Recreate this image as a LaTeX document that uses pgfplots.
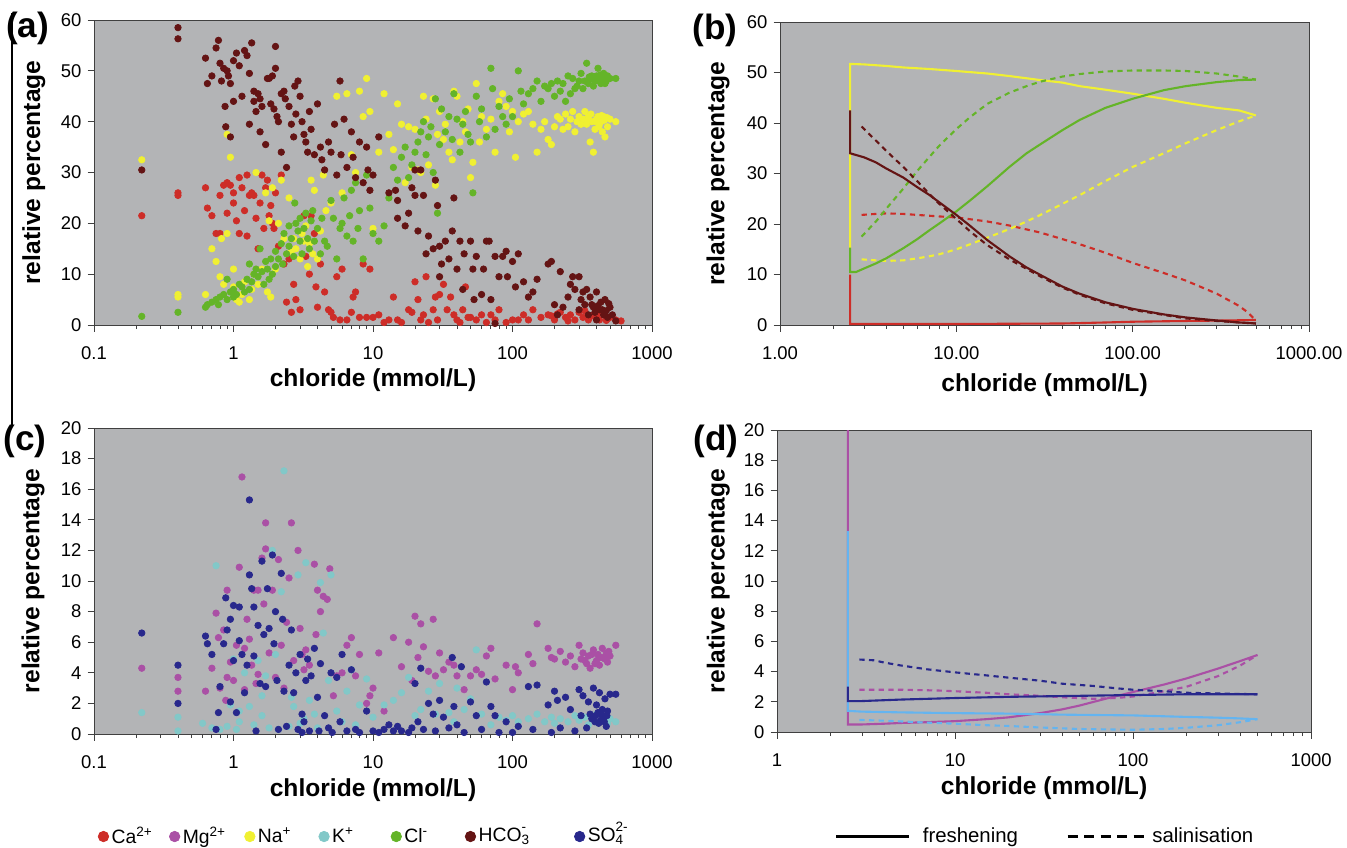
\documentclass[border=0pt]{standalone}
\usepackage{fontspec}
\setmainfont{Liberation Sans}
\usepackage{pgfplots}
\pgfplotsset{compat=1.18}

\definecolor{bgray}{RGB}{179,180,182}
\definecolor{ca}{RGB}{205,45,40}
\definecolor{mg}{RGB}{170,80,165}
\definecolor{na}{RGB}{240,240,50}
\definecolor{kk}{RGB}{130,200,200}
\definecolor{kline}{RGB}{100,180,240}
\definecolor{cl}{RGB}{100,180,40}
\definecolor{hco}{RGB}{100,20,20}
\definecolor{so}{RGB}{40,40,140}

\pgfplotsset{
  chemax/.style={
    scale only axis,
    axis background/.style={fill=bgray},
    axis line style={black!75, line width=0.5pt},
    tick align=outside,
    tick pos=left,
    major tick length=1.3mm,
    minor tick length=0.8mm,
    every tick/.style={black!75, line width=0.5pt},
    tick label style={font=\fontsize{10.5}{12}\selectfont},
    yticklabel style={/pgf/number format/assume math mode=true},
    xticklabel style={yshift=-1.8mm},
    label style={font=\bfseries\fontsize{14}{16}\selectfont},
    xlabel={chloride (mmol/L)},
    ylabel={relative percentage},
  },
  logwide/.style={xmin=0.1, xmax=1000,
    xtick={0.1,1,10,100,1000}, xticklabels={0.1,1,10,100,1000},
    minor xtick={0.2,0.3,0.4,0.5,0.6,0.7,0.8,0.9,2,3,4,5,6,7,8,9,
      20,30,40,50,60,70,80,90,200,300,400,500,600,700,800,900}},
  lognarrow/.style={xmin=1, xmax=1000,
    xtick={1,10,100,1000},
    minor xtick={2,3,4,5,6,7,8,9,20,30,40,50,60,70,80,90,
      200,300,400,500,600,700,800,900}},
  scat/.style={only marks, mark=*, mark size=1.85pt, forget plot},
  frline/.style={line width=1.2pt, forget plot},
  saline/.style={line width=1.2pt, dash pattern=on 3pt off 2.5pt, forget plot},
  dotleg/.style={legend image code/.code={\fill (1mm,0mm) circle (1.05mm);}},
}
% stacked charge over subscript, kept out of the line height
\newcommand\ion[3]{#1\rlap{\smash{\raisebox{0.35ex}{\textsuperscript{#3}}}}\smash{\textsubscript{#2}}}

\begin{document}
\begin{tikzpicture}
\useasboundingbox (0,0) rectangle (269.4mm,-169.4mm);
\draw[black, line width=0.3mm] (2.4mm,-2.6mm) -- (2.4mm,-85mm);

% (a) measured cations/anions
\begin{semilogxaxis}[chemax, logwide, at={(18.8mm,-65mm)}, anchor=south west,
  width=111.6mm, height=61mm, ymin=0, ymax=60, ytick={0,10,...,60},
  xlabel style={at={(axis description cs:0.5,-0.18)}, anchor=center},
  ylabel style={at={(axis description cs:-0.108,0.5)}, anchor=center}]
\addplot[scat, color=ca] coordinates {
(0.22,21.5)(0.4,26)(0.4,25.5)(0.63,27)(0.65,23)(0.7,21.5)(0.75,18)(0.8,18)(0.8,25.5)
(0.85,27.5)(0.9,28)(0.9,22)(0.95,27.5)(1.0,24)(1.0,26)(1.05,20.5)(1.1,18)(1.1,29)
(1.15,27)(1.2,22.5)(1.25,29.5)(1.25,17.5)(1.3,25.5)(1.35,26)(1.4,25.5)(1.45,21)(1.5,15)
(1.55,24)(1.6,29.5)(1.65,19)(1.7,27)(1.75,28.5)(1.8,21.5)(1.85,23.5)(1.9,20)(1.95,19)
(2.0,26)(2.1,15.5)(2.2,29.5)(2.3,12)(2.4,4.5)(2.5,13)(2.6,2.5)(2.7,8)(2.8,5)(3.0,3)
(3.2,21.5)(3.3,13.5)(3.5,10)(3.6,21.5)(3.8,18)(3.9,7.5)(4.0,3.5)(4.2,12)(4.5,6.5)(4.8,3)
(5.0,2.5)(5.2,1.5)(5.5,9.5)(5.8,1)(6,11)(6.5,1)(7,2.5)(7.2,5.5)(7.5,6.5)(8,1.5)(8.5,12)
(9,1.5)(9.5,11)(10,1.5)(11,2)(12,0.5)(13,1)(14,5.5)(15,1)(16,0.5)(18,3)(19,2.5)(20,8.5)
(21,5)(22,1)(23,2)(24,9.5)(25,0.5)(27,3)(28,5.5)(29,1)(30,6)(32,8)(34,3)(36,5.5)(38,2)
(40,1)(42,0.5)(44,3)(46,7.5)(48,1.5)(50,1.5)(55,1)(60,2)(65,0.5)(70,2)(75,1)(80,3)
(90,0.5)(100,1)(110,1)(120,2)(130,1)(140,3)(160,1.5)(180,2)(200,1)(220,2.5)(240,1.5)
(260,2)(280,1)(300,2.5)(320,1.5)(350,1)(380,2)(400,1.5)(420,1)(450,2)(480,1.2)(500,1.5)
(550,1)(600,0.8)(190,1.8)(210,2.2)(250,0.8)(330,2.8)(370,1.8)(430,2.4)(470,0.9)};
\addplot[scat, color=na] coordinates {
(0.22,32.5)(0.4,6)(0.4,5.5)(0.63,6)(0.7,15)(0.75,12.5)(0.8,9.5)(0.82,17)(0.85,8)
(0.9,37.5)(0.9,18)(0.95,33)(1.0,7.5)(1.0,11)(1.05,5)(1.1,4.5)(1.15,6)(1.2,8.5)(1.3,5)
(1.35,7)(1.4,10)(1.45,30)(1.5,8)(1.6,11)(1.7,26)(1.75,6.5)(1.8,20.5)(1.85,5.5)(1.9,27)
(2.0,11)(2.1,20)(2.2,28.5)(2.3,17)(2.5,25)(2.6,14.5)(2.7,17)(2.8,15)(3.0,13)(3.1,18)
(3.2,16.5)(3.3,19.5)(3.4,11.5)(3.5,16)(3.6,28.5)(3.7,14)(3.8,26.5)(4.0,13)(4.2,18.5)
(4.4,29.5)(4.6,22.5)(5,24)(5.5,45)(6,26)(6.5,45.5)(7,33.5)(7.5,30)(8,46)(8.5,41)(9,48.5)
(9.5,42)(10,19)(11,34)(12,45.5)(13,37.5)(14,34.5)(15,43.5)(16,39.5)(17,28)(18,39)(19,31)
(20,38.5)(21,30.5)(22,30)(23,45)(24,40.5)(25,31.5)(27,44.5)(28,27.5)(29,37.5)(30,42)
(32,36.5)(33,39.5)(35,34)(37,32.5)(38,46)(40,45)(42,36)(44,40)(46,38)(48,42.5)(50,29)
(52,32)(55,47.5)(58,36)(60,41)(65,38.5)(70,40.5)(75,34)(80,44)(85,45.5)(90,43)(95,38)
(100,42)(105,33)(110,40)(120,41.5)(130,42)(140,39.5)(150,34)(160,38.5)(170,40)(180,36.5)
(190,35.5)(200,39)(210,41)(220,40.5)(230,38.5)(240,41.5)(250,39)(260,40.5)(270,42)
(280,38)(290,40)(300,41)(310,39.5)(320,40.5)(330,42)(340,39.5)(350,41)(360,36)(370,40)
(380,34)(390,38.5)(400,40.5)(410,41)(420,39.5)(430,40)(440,38)(450,41)(460,37)(480,39)
(500,40.5)(550,40)(345,40.2)(365,41.5)(395,40)(415,39)(435,41.2)(455,40.3)(475,40.8)};
\addplot[scat, color=cl] coordinates {
(0.22,1.7)(0.4,2.5)(0.63,3.5)(0.65,4)(0.7,4.5)(0.75,5)(0.78,4)(0.8,5.5)(0.85,6)(0.9,5)
(0.9,9)(0.95,6.5)(1.0,7)(1.0,5.5)(1.05,6)(1.1,8)(1.15,7.5)(1.2,6.5)(1.25,9)(1.3,7)
(1.3,12)(1.35,8.5)(1.4,10)(1.45,11)(1.5,9.5)(1.55,15)(1.6,10.5)(1.65,8)(1.7,12.5)
(1.75,11)(1.8,9)(1.85,13)(1.9,10)(2.0,14.5)(2.0,11.5)(2.1,13)(2.2,16)(2.25,12)(2.3,18)
(2.4,14)(2.5,15.5)(2.5,19.5)(2.6,17)(2.7,13.5)(2.75,24)(2.8,20)(2.9,18.5)(3.0,16.5)
(3.0,21)(3.1,14)(3.2,19)(3.3,22)(3.4,17)(3.5,15)(3.6,20.5)(3.7,22.5)(3.8,16.5)(4.0,19)
(4.2,14)(4.3,21)(4.5,16.5)(4.7,15.5)(5.0,24.5)(5.2,21)(5.5,13)(5.8,19)(6,20)(6.2,25)
(6.5,17.5)(6.8,21.5)(7,26.5)(7.2,16.5)(7.5,28)(7.8,19)(8,22.5)(8.5,13)(9,29.5)(9.5,23)
(10,18)(11,16.5)(12,19.5)(13,25)(14,31)(15,28.5)(16,33)(17,35)(18,29)(19,31.5)(20,34)
(21,36)(22,38)(23,40)(24,33.5)(25,37)(26,39)(27,30)(28,44.5)(29,22)(30,35.5)(31,42.5)
(33,38)(35,41)(37,36.5)(38,45.5)(40,40.5)(42,34)(44,39.5)(46,42)(48,37.5)(50,36)(52,26)
(55,45)(58,40)(60,42.5)(65,37)(70,50.5)(72,46.5)(75,38.5)(80,43)(85,41)(90,39.5)
(95,44.5)(100,41)(110,50)(115,46)(120,43.5)(130,45.5)(140,46.5)(150,48)(160,44)(170,47)
(180,46.5)(190,47.5)(200,45)(210,48)(220,46)(230,47.5)(240,44)(250,49)(260,45.5)
(270,48.5)(280,46.5)(290,47)(300,48)(310,49.5)(320,46.5)(330,48)(340,51.5)(350,47.5)
(360,48.5)(370,49)(380,47)(390,48)(400,49)(410,50.5)(420,48)(430,47.5)(440,48.5)
(450,49.5)(460,47.5)(470,48)(480,49)(500,48.5)(550,48.5)(355,48.8)(385,48.2)(425,49.2)};
\addplot[scat, color=hco] coordinates {
(0.22,30.5)(0.4,58.5)(0.4,56.3)(0.63,52.5)(0.65,47.5)(0.7,49)(0.75,54.5)(0.78,56)
(0.8,51.5)(0.82,48)(0.85,50.5)(0.87,43)(0.88,39)(0.9,50)(0.92,49)(0.95,47.5)(0.95,37)
(1.0,44)(1.0,52)(1.05,53.5)(1.1,51)(1.15,45)(1.2,54)(1.25,53)(1.3,49.5)(1.35,55.5)
(1.3,39.5)(1.4,46)(1.4,44)(1.45,42)(1.5,45.5)(1.55,44.5)(1.6,43)(1.55,38)(1.7,35.5)
(1.75,48.5)(1.8,48.5)(1.85,43.5)(1.9,49)(1.95,42.5)(2.0,50.5)(2.0,54.8)(2.05,41)(2.1,40)
(2.2,45.5)(2.2,34)(2.3,46)(2.35,44.5)(2.4,31)(2.5,43)(2.6,39.5)(2.7,37)(2.75,47)(2.8,41.5)
(2.9,48)(3.0,45)(3.1,40)(3.2,37.5)(3.3,36)(3.4,34)(3.5,42)(3.6,38.5)(3.8,33.5)(4.0,43.5)
(4.2,35)(4.3,32.5)(4.5,30.5)(4.8,36)(5.0,34)(5.3,39.5)(5.5,29.5)(5.8,48)(5.9,33.5)
(6.2,40.5)(6.5,31)(7.0,38)(7.2,33)(7.5,29)(8.0,36)(8.5,28)(9.0,35)(9.2,30.5)(9.5,26.5)
(10,29.5)(11,37)(13,26)(14.5,26.5)(15,24.5)(15,21)(17,19.5)(18,22)(19,27)(20,30.5)
(20,25.5)(21,18.5)(22,30.5)(23,25.5)(24,14)(25,17.5)(27,15)(28,28.5)(29,23.5)(30,15.5)
(30,9.5)(31,12)(33,16.5)(35,13)(37,18.5)(38,25)(40,11)(42,16.5)(44,7)(45,14)(50,16.5)
(52,11)(53,5)(55,13.5)(60,6)(62,11)(65,16.5)(68,16.5)(70,5)(75,13.5)(80,9.5)(85,13.5)
(90,14.5)(92,9.5)(100,12.5)(105,7.5)(110,14)(120,8.5)(130,5.5)(140,6.5)(150,9)(180,12)
(190,12.5)(200,4)(210,2)(220,10.5)(230,3.5)(250,5.5)(260,8)(270,9.5)(280,7)(300,9.5)
(300,3)(320,6.5)(330,4)(340,7)(350,2)(360,5.5)(380,3.5)(400,6.5)(400,1)(420,3)(430,4.5)
(450,2)(460,5)(480,1.5)(500,3.5)(520,2)(550,0.8)(75,0.3)(310,5)(370,4)(390,2.5)(410,3.8)
(440,3)(470,2.8)(490,4.2)};
\end{semilogxaxis}

% (b) modelled freshening / salinisation, major ions
\begin{semilogxaxis}[chemax, lognarrow, at={(156mm,-65mm)}, anchor=south west,
  width=105.8mm, height=60.6mm, ymin=0, ymax=60, ytick={0,10,...,60},
  xticklabels={1.00,10.00,100.00,1000.00},
  xlabel style={at={(axis description cs:0.5,-0.197)}, anchor=center},
  ylabel style={at={(axis description cs:-0.117,0.5)}, anchor=center}]
\addplot[saline, color=ca] coordinates {(2.9,21.8)(3.5,22)(4,22.1)(5,22)(6,21.8)
  (8,21.5)(10,21.3)(15,20.5)(20,19.7)(30,18.3)(40,17)(50,16)(70,14.3)(100,12.3)
  (150,10.3)(200,8.8)(300,6.2)(400,3.8)(450,2.5)(480,1.5)(500,1)};
\addplot[frline, color=ca] coordinates {(2.5,10)(2.5,0.2)(10,0.2)(40,0.3)(70,0.5)
  (100,0.65)(200,0.8)(350,0.9)(500,1)};
\addplot[saline, color=na] coordinates {(2.9,13)(3.5,12.8)(4,12.7)(5,12.8)(6,13.2)
  (7,13.6)(8,14)(10,15)(12,16)(15,17.3)(20,19)(25,20.5)(30,21.8)(40,24)(50,25.7)
  (70,28.5)(100,31.3)(150,34)(200,36)(300,38.6)(400,40.3)(500,41.5)};
\addplot[frline, color=na] coordinates {(2.5,15)(2.5,51.7)(3,51.6)(4,51.3)(5,51)
  (7,50.7)(10,50.3)(15,49.8)(20,49.3)(30,48.5)(40,48)(50,47.3)(70,46.6)(100,45.8)
  (150,44.8)(200,44)(300,43)(400,42.5)(500,41.5)};
\addplot[saline, color=cl] coordinates {(2.9,17.5)(3.5,20.5)(4,23)(5,27)(6,30.5)
  (7,33.2)(8,35.5)(10,38.8)(12,41.2)(15,43.8)(20,46)(25,47.3)(30,48.2)(40,49.2)
  (50,49.7)(70,50.2)(100,50.4)(150,50.4)(200,50.3)(300,49.8)(400,49.2)(500,48.6)};
\addplot[frline, color=cl] coordinates {(2.5,15.3)(2.5,10.5)(2.7,10.5)(3,11.2)
  (3.5,12.2)(4,13.2)(5,15.2)(6,17)(7,18.7)(8,20.1)(10,22.5)(12,24.7)(15,27.5)(20,31.3)
  (25,34)(30,35.8)(40,38.6)(50,40.6)(70,43)(100,44.8)(150,46.5)(200,47.3)(300,48.1)
  (400,48.5)(500,48.6)};
\addplot[saline, color=hco] coordinates {(2.9,39.3)(3.5,36.5)(4,34.5)(5,31.3)(6,28.5)
  (7,26)(8,24)(10,21)(12,18.5)(15,15.8)(20,13)(30,9.6)(40,7.4)(50,6)(70,4.3)(100,3)
  (200,1.3)(300,0.8)(500,0.3)};
\addplot[frline, color=hco] coordinates {(2.5,42.5)(2.5,34)(3,33.2)(3.5,32.2)(4,31)
  (5,29.2)(6,27.3)(7,25.8)(8,24.3)(10,21.8)(12,19.6)(15,16.8)(20,13.6)(25,11.4)
  (30,9.9)(40,7.6)(50,6.2)(70,4.5)(100,3.2)(150,2.1)(200,1.5)(300,0.9)(400,0.5)(500,0.3)};
\end{semilogxaxis}

% (c) measured minor ions
\begin{semilogxaxis}[chemax, logwide, at={(18.8mm,-146.8mm)}, anchor=south west,
  width=111.6mm, height=61.2mm, ymin=0, ymax=20, ytick={0,2,...,20},
  xlabel style={at={(axis description cs:0.5,-0.183)}, anchor=center},
  ylabel style={at={(axis description cs:-0.109,0.5)}, anchor=center},
  legend columns=7,
  legend style={at={(axis description cs:0.0063,-0.335)}, anchor=west,
    draw=none, fill=none, inner sep=0pt, column sep=0pt,
    nodes={inner xsep=0.5mm, font=\fontsize{11}{13}\selectfont}},
  legend cell align=left]
\addlegendimage{color=ca, dotleg}
\addlegendentry[text width=11mm]{Ca\textsuperscript{2+}}
\addlegendimage{color=mg, dotleg}
\addlegendentry[text width=11.8mm]{Mg\textsuperscript{2+}}
\addlegendimage{color=na, dotleg}
\addlegendentry[text width=11.6mm]{Na\textsuperscript{+}}
\addlegendimage{color=kk, dotleg}
\addlegendentry[text width=11.2mm]{K\textsuperscript{+}}
\addlegendimage{color=cl, dotleg}
\addlegendentry[text width=11.6mm]{Cl\textsuperscript{-}}
\addlegendimage{color=hco, dotleg}
\addlegendentry[text width=18.6mm]{\ion{HCO}{3}{-}}
\addlegendimage{color=so, dotleg}
\addlegendentry{\ion{SO}{4}{2-}}
\addplot[scat, color=mg] coordinates {
(0.22,4.3)(0.4,3.7)(0.4,2.8)(0.63,2.8)(0.7,4.3)(0.75,7.9)(0.78,6.3)(0.8,3)(0.85,6.8)
(0.88,2.2)(0.9,9.4)(0.9,3.7)(0.95,4.7)(1.0,3.5)(1.05,5.8)(1.1,10.9)(1.15,16.8)(1.2,2.9)
(1.25,7.5)(1.3,6.2)(1.35,4.5)(1.4,9.4)(1.45,3.3)(1.5,9.4)(1.6,11.5)(1.65,8.5)(1.7,13.8)
(1.7,12.1)(1.8,5.3)(1.9,9.4)(2.0,3.7)(2.1,11.4)(2.2,5.8)(2.3,3)(2.5,10.2)(2.6,13.8)
(2.7,4.8)(2.9,12)(3.0,6.9)(3.1,5.2)(3.3,5.5)(3.5,4.5)(3.8,11.1)(3.9,6.5)(4.0,9.4)(4.2,8)
(4.4,9)(4.7,8.8)(4.9,10.8)(5.2,2.5)(5.5,3.8)(6,4)(6.5,5.8)(7,6.3)(7.5,3.8)(8,5.2)(9,2)
(9.5,2.5)(10,3)(11,5.3)(12,1.5)(14,6.3)(16,4.4)(18,6)(19,3.5)(20,7.7)(21,5)(22,7.2)
(23,5.7)(25,4.1)(27,7.5)(28,3.8)(30,5.3)(32,4.2)(35,4.7)(38,4.5)(40,3.8)(45,2.9)(50,3.8)
(55,4.2)(60,3.9)(65,5.1)(70,5.6)(75,3.6)(90,4.5)(100,2.9)(105,4.4)(110,4)(130,5.2)
(140,4.6)(150,7.2)(180,5.6)(190,5)(200,4.9)(220,5.4)(240,4.7)(260,5.1)(280,4.4)(300,5.8)
(310,4.9)(320,5.3)(340,4.6)(350,5.1)(360,4.3)(380,5.5)(400,4.8)(410,5.2)(420,4.5)
(440,5.6)(450,5)(470,5.3)(480,4.7)(500,5.1)(550,5.8)(330,4.8)(370,5.2)(390,4.6)(430,5.0)
(460,4.9)(490,5.4)(1.2,5.6)(1.5,3.9)(2.4,7.3)(3.2,4.2)};
\addplot[scat, color=kk] coordinates {
(0.22,1.4)(0.4,1.1)(0.4,0.2)(0.6,0.7)(0.7,0.4)(0.75,11)(0.8,0.3)(0.9,0.5)(0.95,1.9)
(1.0,4.9)(1.05,0.3)(1.1,1.5)(1.2,4)(1.3,1.8)(1.4,0.6)(1.5,4.8)(1.6,2.5)(1.7,3.8)(1.8,0.4)
(1.9,12)(2.0,5.2)(2.2,9.3)(2.3,17.2)(2.5,0.5)(2.7,1.8)(2.9,10.4)(3.0,0.7)(3.3,11.2)
(3.5,2.2)(3.8,1.3)(4.2,9.9)(4.4,6.6)(4.8,3.5)(5.0,10.4)(5.5,1.5)(6,0.8)(6.5,2.8)(7,4.2)
(7.5,0.6)(8,1.9)(9,3.6)(10,1.1)(12,1.9)(14,2.2)(16,2.7)(18,3.7)(20,1.2)(22,1.6)(25,2.8)
(28,1.3)(30,3.3)(35,1.4)(38,0.8)(40,3)(45,1.6)(50,2.3)(55,5.5)(60,1.3)(70,0.6)(80,1.1)
(90,0.9)(100,1.2)(110,0.8)(130,1)(150,1.3)(170,0.8)(190,1.1)(200,0.7)(220,1)(250,0.8)
(280,1.2)(300,0.9)(330,1.1)(350,0.6)(380,1)(400,1.3)(420,0.8)(450,1.1)(480,0.7)(500,1)
(550,0.8)(1.1,0.8)(1.6,1.2)(2.1,0.3)(2.6,2.4)(3.2,1)(4,0.4)};
\addplot[scat, color=so] coordinates {
(0.22,6.6)(0.4,4.5)(0.4,2)(0.63,6.4)(0.65,5.9)(0.7,5.2)(0.75,0.3)(0.78,1.4)(0.8,3.1)
(0.85,5.9)(0.88,8.9)(0.9,6.8)(0.95,7.5)(0.95,2.1)(1.0,8.4)(1.0,4.8)(1.05,1.4)(1.1,8.3)
(1.1,6.1)(1.15,5.2)(1.2,2.7)(1.25,4.5)(1.3,15.3)(1.3,10.4)(1.35,9.5)(1.4,8.3)(1.4,5.1)
(1.45,0.2)(1.5,7.1)(1.55,3.3)(1.6,11.3)(1.65,6.5)(1.7,3.1)(1.75,9.5)(1.8,6.9)(1.9,11.7)
(1.95,5.9)(2.0,8)(2.05,3.5)(2.1,0.3)(2.2,10.5)(2.25,7.5)(2.3,2.8)(2.4,0.5)(2.5,4.5)
(2.6,6.8)(2.7,2.7)(2.8,4)(3.0,5.2)(3.1,1.3)(3.2,0.8)(3.3,3.5)(3.4,4.9)(3.5,0.2)(3.6,3.8)
(3.8,5.6)(4.0,2.4)(4.2,4.6)(4.5,1.2)(4.8,0.4)(5.0,4)(5.5,3.7)(5.8,0.8)(6,5.2)(6.5,0.2)
(7,4.2)(7.5,0.3)(8,0.1)(9,1.5)(10,0.2)(11,0.1)(12,0.3)(13,0.6)(14,0.2)(15,0.5)(16,0.2)
(18,0.1)(19,0.4)(20,3.3)(21,0.8)(22,4.3)(23,0.3)(25,2)(27,1.3)(28,0.2)(30,2.2)(32,1.1)
(35,0.4)(37,5)(38,1.8)(40,0.6)(43,4.4)(45,0.1)(50,2.1)(55,1.2)(60,0.3)(65,3.4)(70,1.8)
(75,1.2)(80,0.1)(90,0.8)(100,0.1)(110,0.5)(130,3.1)(140,0.3)(150,3.2)(180,1.9)(190,0.1)
(200,2.8)(210,2.2)(220,0.4)(240,2.4)(260,1.6)(280,0.2)(300,2.9)(310,1.2)(320,2.5)
(340,0.4)(350,2.1)(360,1.3)(380,3)(390,0.8)(400,1.9)(410,1.4)(420,2.7)(430,0.9)(440,1.6)
(450,1.1)(460,2.3)(470,0.5)(480,1.5)(500,2.6)(550,2.6)(370,1.0)(395,1.2)(415,0.7)
(435,1.3)(455,0.8)(475,1.2)(3.1,0.1)(4.1,0.2)(5.1,0.1)(2.9,0.3)};
\end{semilogxaxis}

% (d) modelled freshening / salinisation, minor ions
\begin{semilogxaxis}[chemax, lognarrow, at={(155.4mm,-146.4mm)}, anchor=south west,
  width=106.8mm, height=60.4mm, ymin=0, ymax=20, ytick={0,2,...,20},
  xticklabels={1,10,100,1000},
  xlabel style={at={(axis description cs:0.5,-0.185)}, anchor=center},
  ylabel style={at={(axis description cs:-0.11,0.5)}, anchor=center},
  legend columns=2,
  legend style={at={(axis description cs:0.1067,-0.346)}, anchor=west,
    draw=none, fill=none, inner sep=0pt, column sep=0pt,
    nodes={inner xsep=1mm, font=\fontsize{11.6}{14}\selectfont}},
  legend cell align=left]
\addlegendimage{black, line width=0.7mm,
  legend image code/.code={\draw (0mm,0mm) -- (14.6mm,0mm); \path (16mm,0mm);}}
\addlegendentry[text width=27.6mm]{freshening}
\addlegendimage{black, line width=0.7mm, dash pattern=on 2mm off 1.3mm,
  legend image code/.code={\draw (0mm,0mm) -- (15.2mm,0mm); \path (15.6mm,0mm);}}
\addlegendentry{salinisation}
\addplot[frline, color=mg] coordinates {(2.5,20)(2.5,0.5)(3,0.5)(4,0.55)(5,0.6)
  (7,0.65)(10,0.72)(15,0.85)(20,0.97)(30,1.25)(40,1.5)(50,1.75)(70,2.2)(100,2.65)
  (150,3.15)(200,3.55)(300,4.2)(400,4.7)(500,5.1)};
\addplot[saline, color=mg] coordinates {(2.9,2.8)(5,2.8)(8,2.75)(10,2.7)(15,2.6)
  (20,2.5)(30,2.4)(40,2.3)(60,2.2)(80,2.25)(100,2.35)(150,2.7)(200,3.0)(300,3.7)
  (400,4.4)(500,5.1)};
\addplot[frline, color=kline] coordinates {(2.5,13.3)(2.5,1.4)(3,1.35)(5,1.3)
  (10,1.25)(20,1.22)(40,1.15)(100,1.1)(200,1.0)(300,0.95)(400,0.9)(500,0.85)};
\addplot[saline, color=kline] coordinates {(2.9,0.8)(4,0.75)(5,0.7)(7,0.62)(10,0.55)
  (15,0.45)(20,0.4)(30,0.3)(50,0.2)(100,0.15)(150,0.2)(200,0.28)(300,0.45)(400,0.65)
  (500,0.85)};
\addplot[saline, color=so] coordinates {(2.9,4.8)(3.5,4.75)(4,4.6)(5,4.4)(7,4.15)
  (10,3.95)(15,3.75)(20,3.6)(30,3.4)(40,3.2)(60,3.05)(80,2.9)(100,2.8)(150,2.7)
  (200,2.6)(300,2.55)(500,2.5)};
\addplot[frline, color=so] coordinates {(2.5,3)(2.5,2.05)(3,2.05)(5,2.15)(10,2.25)
  (20,2.33)(40,2.38)(100,2.45)(200,2.5)(500,2.5)};
\end{semilogxaxis}

\node[font=\bfseries\fontsize{20}{22}\selectfont] at (5.5mm,-5.7mm) {(a)};
\node[font=\bfseries\fontsize{20}{22}\selectfont] at (143mm,-6mm) {(b)};
\node[font=\bfseries\fontsize{20}{22}\selectfont] at (5mm,-88.2mm) {(c)};
\node[font=\bfseries\fontsize{20}{22}\selectfont] at (143.2mm,-88.2mm) {(d)};
\end{tikzpicture}
\end{document}
